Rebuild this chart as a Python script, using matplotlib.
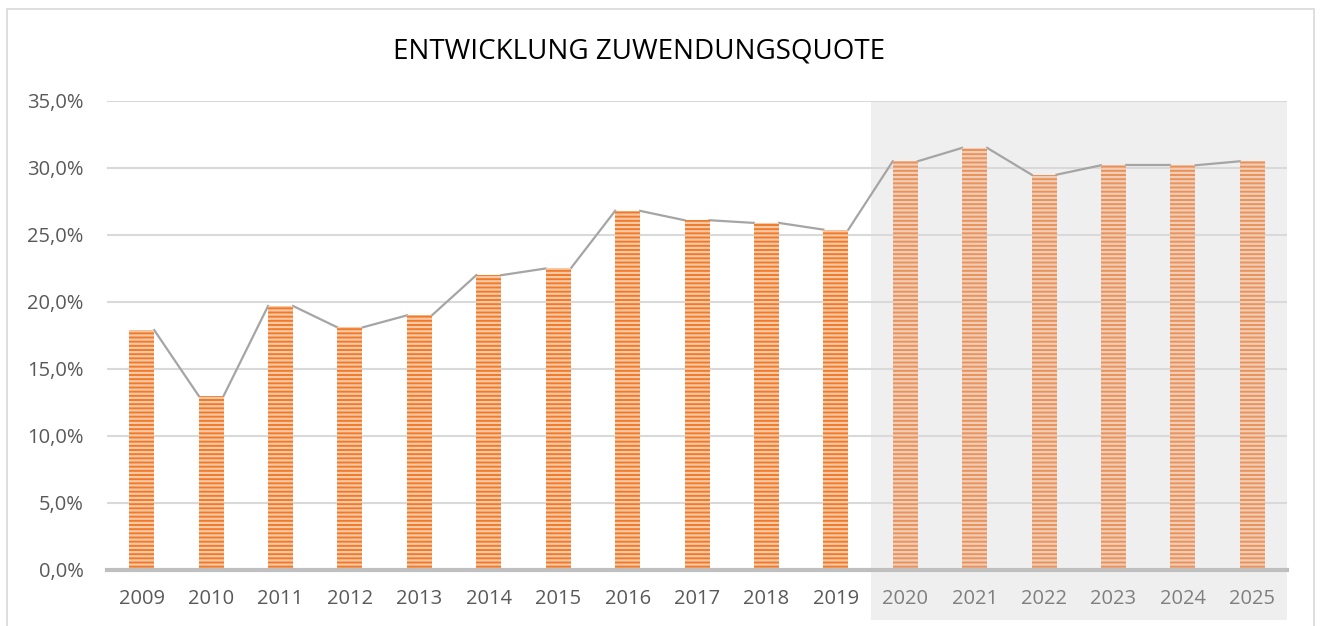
import numpy as np
import matplotlib
matplotlib.use('Agg')
import matplotlib.pyplot as plt
from matplotlib.patches import Rectangle
from matplotlib.ticker import FuncFormatter, MultipleLocator
import matplotlib.transforms as mtransforms

# Zuwendungsquote per year (2020 onwards is the planning period)
years = ['2009', '2010', '2011', '2012', '2013', '2014', '2015', '2016',
         '2017', '2018', '2019', '2020', '2021', '2022', '2023', '2024', '2025']
quote = [0.179, 0.130, 0.197, 0.181, 0.190, 0.220, 0.225, 0.268,
         0.261, 0.259, 0.254, 0.305, 0.315, 0.295, 0.302, 0.302, 0.305]
first_plan = 11  # index of 2020

plt.rcParams['font.family'] = ['Open Sans', 'DejaVu Sans']
plt.rcParams['hatch.linewidth'] = 1.6

fig = plt.figure(figsize=(13.2, 6.26), dpi=100)
ax = fig.add_axes([0.0811, 0.0895, 0.8939, 0.7492])

x = np.arange(len(years))
w = 0.36

# shaded planning area, reaching under the tick labels
trans = mtransforms.blended_transform_factory(ax.transData, ax.transAxes)
ax.add_patch(Rectangle((first_plan - 0.5, -0.107), len(years) - first_plan, 1.107,
                       transform=trans, clip_on=False, facecolor='#EFEFEF',
                       edgecolor='none', zorder=0.2))

# series lines from top right corner of one bar to top left of the next
for i in range(len(years) - 1):
    ax.plot([x[i] + w / 2, x[i + 1] - w / 2], [quote[i], quote[i + 1]],
            '-', color='#A5A5A5', linewidth=1.6, zorder=2)

for i in range(len(years)):
    if i < first_plan:
        fc, hc = '#F07A2A', '#F9C9A6'
    else:
        fc, hc = '#E9925A', '#F0CDB6'
    ax.bar(x[i], quote[i], width=w, color=fc, edgecolor=hc, linewidth=0,
           hatch='----', zorder=3)

ax.set_xlim(-0.5, len(years) - 0.5)
ax.set_ylim(0, 0.35)
ax.yaxis.set_major_locator(MultipleLocator(0.05))
ax.yaxis.set_major_formatter(FuncFormatter(
    lambda v, p: ('%.1f%%' % (v * 100)).replace('.', ',')))
ax.set_xticks(x)
ax.set_xticklabels(years)

ax.set_axisbelow(True)
ax.grid(axis='y', color='#D9D9D9', linewidth=1.5)
for s in ['top', 'right', 'left']:
    ax.spines[s].set_visible(False)
ax.spines['bottom'].set_color('#BFBFBF')
ax.spines['bottom'].set_linewidth(3)
ax.spines['bottom'].set_zorder(4)

ax.tick_params(axis='both', length=0, labelsize=14.5, colors='#595959')
ax.tick_params(axis='x', pad=14)
ax.tick_params(axis='y', pad=17)
for i, lab in enumerate(ax.get_xticklabels()):
    if i >= first_plan:
        lab.set_color('#7F7F7F')

fig.text(0.484, 0.918, 'ENTWICKLUNG ZUWENDUNGSQUOTE', ha='center',
         va='center', fontsize=20, color='#000000')

# chart border
fig.add_artist(Rectangle((7 / 1320, -0.05), 1307 / 1320, 1.05 - 9 / 626,
                         transform=fig.transFigure, fill=False,
                         edgecolor='#D9D9D9', linewidth=1.2))

plt.savefig('out.png', dpi=100)
